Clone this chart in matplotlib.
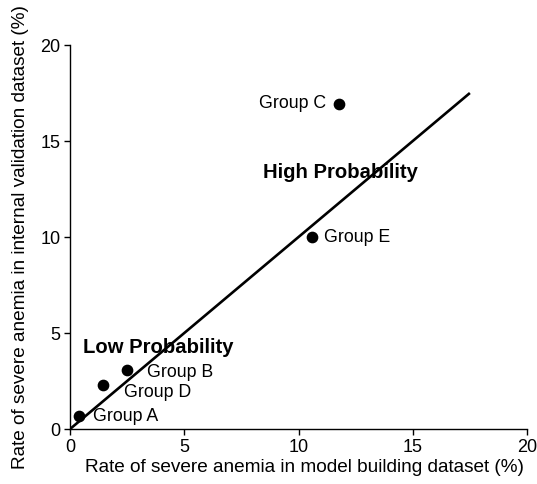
import matplotlib
matplotlib.use("Agg")
import matplotlib.pyplot as plt

plt.rcParams['font.family'] = ['Liberation Sans', 'DejaVu Sans']

groups = ["Group A", "Group D", "Group B", "Group E", "Group C"]
model_rate = [0.41, 1.43, 2.48, 10.57, 11.79]
valid_rate = [0.66, 2.29, 3.05, 10.0, 16.95]
line_x = [0, 17.5]
line_y = [0, 17.5]
ticks = [0, 5, 10, 15, 20]

fig = plt.figure(figsize=(5.37, 4.84), dpi=100)
ax = fig.add_axes([0.1304, 0.1136, 0.8510, 0.7934])

ax.plot(line_x, line_y, color='black', lw=1.9, solid_capstyle='butt')
ax.scatter(model_rate, valid_rate, s=55, color='black', zorder=3)

label_off = {
    "Group A": (0.58, 0.0, 'left'),
    "Group D": (0.93, -0.38, 'left'),
    "Group B": (0.87, -0.12, 'left'),
    "Group E": (0.55, 0.0, 'left'),
    "Group C": (-0.58, 0.0, 'right'),
}
for g, x, y in zip(groups, model_rate, valid_rate):
    dx, dy, ha = label_off[g]
    ax.text(x + dx, y + dy, g, ha=ha, va='center', fontsize=12.8)

ax.text(0.57, 4.25, "Low Probability", fontsize=14.6, fontweight='bold', va='center', ha='left')
ax.text(8.45, 13.35, "High Probability", fontsize=14.6, fontweight='bold', va='center', ha='left')

ax.set_xlim(0, 20)
ax.set_ylim(0, 20)
ax.set_xticks(ticks)
ax.set_yticks(ticks)
ax.tick_params(labelsize=13, length=4, width=1, direction='out', pad=3)
for s in ['top', 'right']:
    ax.spines[s].set_visible(False)
for s in ['left', 'bottom']:
    ax.spines[s].set_linewidth(1)
ax.set_xlabel("Rate of severe anemia in model building dataset (%)", fontsize=13.7)
ax.xaxis.set_label_coords(0.512, -0.078)
ax.set_ylabel("Rate of severe anemia in internal validation dataset (%)", fontsize=13.7, labelpad=8)

fig.savefig("out.png", dpi=100)
